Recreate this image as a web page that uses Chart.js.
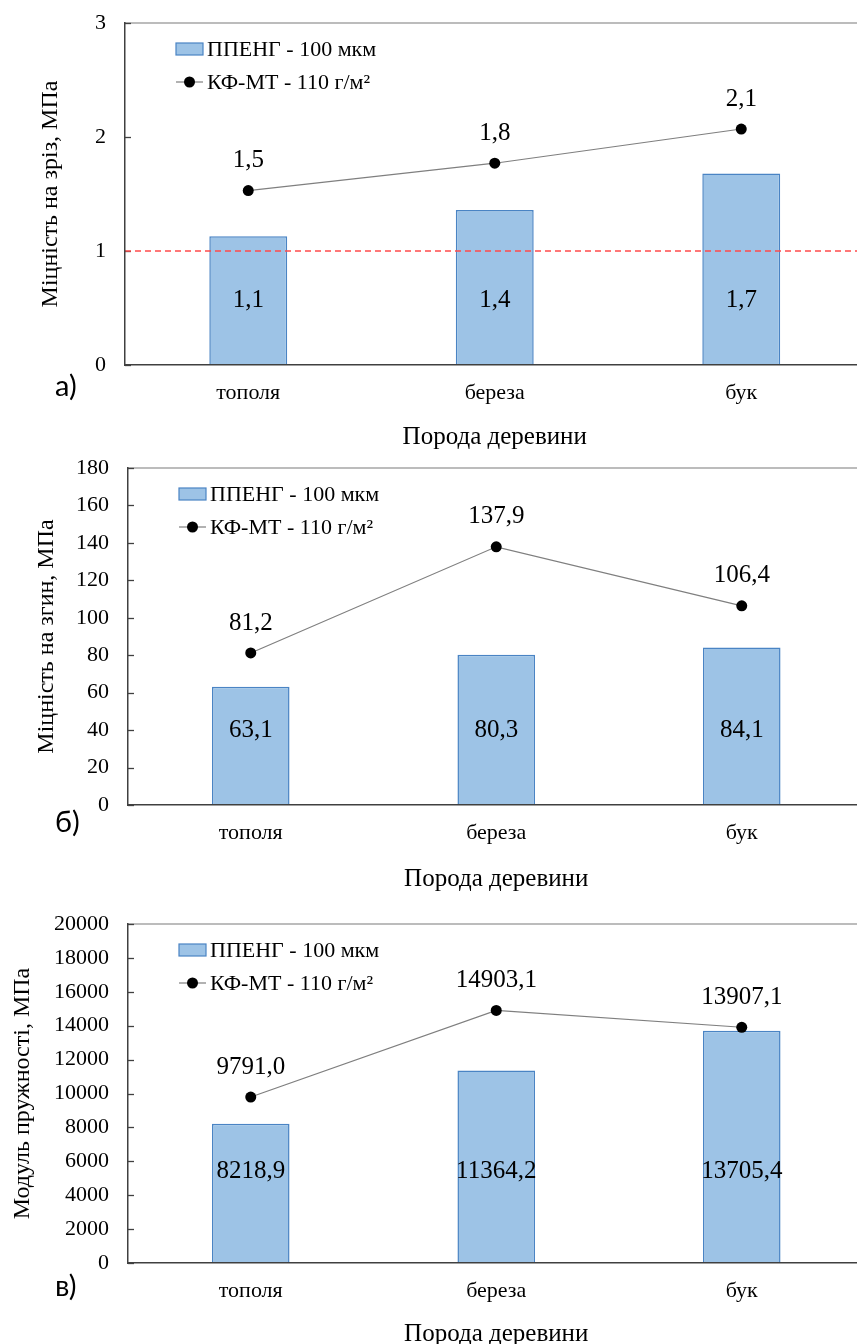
<!DOCTYPE html>
<html>
<head>
<meta charset="utf-8">
<script src="https://cdn.jsdelivr.net/npm/chart.js@4.4.0/dist/chart.umd.min.js"></script>
<style>
    html, body { margin: 0; padding: 0; background: #fff; width: 857px; height: 1344px; overflow: hidden; }
    .panel { position: absolute; left: 0; }
    .letter { position: absolute; left: 55px; font-family: Lato, "Noto Sans", sans-serif; font-size: 29px; line-height: 1; color: #000; }
</style>
</head>
<body>
<div class="panel" style="top:0px"><canvas id="chartA" width="870" height="462"></canvas></div>
<div class="panel" style="top:440px"><canvas id="chartB" width="870" height="462"></canvas></div>
<div class="panel" style="top:896px"><canvas id="chartC" width="870" height="460"></canvas></div>
<div class="letter" style="top:370px">а)</div>
<div class="letter" style="top:806px">б)</div>
<div class="letter" style="top:1270px">в)</div>

<script>
// Data
const categories = ['тополя', 'береза', 'бук'];
const seriesNames = ['ППЕНГ - 100 мкм', 'КФ-МТ - 110 г/м²'];
const axisTitleX = 'Порода деревини';

// а) shear strength, MPa
const shearFilm = [1.13, 1.36, 1.68];
const shearPaper = [1.53, 1.77, 2.07];
const shearLimit = 1;

// б) bending strength, MPa
const bendFilm = [63.1, 80.3, 84.1];
const bendPaper = [81.2, 137.9, 106.4];

// в) modulus of elasticity, MPa
const modulusFilm = [8218.9, 11364.2, 13705.4];
const modulusPaper = [9791.0, 14903.1, 13907.1];

const SERIF = '"Liberation Serif", "Times New Roman", serif';
const BAR_FILL = '#9dc3e6';
const BAR_EDGE = '#4a84c4';
const AXIS_COLOR = '#404040';

function fmt(v) {
    return v.toFixed(1).replace('.', ',');
}

/**
 * Draws inner tick marks, top frame line, reference line, value labels and legend
 */
const panelDecor = {
    id: 'panelDecor',
    afterDatasetsDraw: function(chart, args, opts) {
        const ctx = chart.ctx;
        const area = chart.chartArea;
        const yScale = chart.scales.y;

        ctx.save();

        // top frame line
        ctx.strokeStyle = '#a6a6a6';
        ctx.lineWidth = 1.5;
        ctx.beginPath();
        ctx.moveTo(area.left, area.top);
        ctx.lineTo(area.right, area.top);
        ctx.stroke();

        // tick marks pointing into the plot
        ctx.strokeStyle = AXIS_COLOR;
        ctx.lineWidth = 1.3;
        yScale.ticks.forEach(t => {
            const y = Math.round(yScale.getPixelForValue(t.value)) + 0.5;
            ctx.beginPath();
            ctx.moveTo(area.left, y);
            ctx.lineTo(area.left + 6, y);
            ctx.stroke();
        });

        // dashed reference line
        if (opts.refLine !== undefined) {
            const y = yScale.getPixelForValue(opts.refLine);
            ctx.strokeStyle = '#ff4b4b';
            ctx.lineWidth = 1.6;
            ctx.setLineDash([6, 4]);
            ctx.beginPath();
            ctx.moveTo(area.left, y);
            ctx.lineTo(area.right, y);
            ctx.stroke();
            ctx.setLineDash([]);
        }

        // value labels
        ctx.fillStyle = '#000';
        ctx.font = '25px ' + SERIF;
        ctx.textAlign = 'center';
        ctx.textBaseline = 'middle';
        chart.data.datasets.forEach((ds, di) => {
            const meta = chart.getDatasetMeta(di);
            meta.data.forEach((el, i) => {
                if (ds.type === 'bar') {
                    const y = area.bottom - opts.barLabelFrac * (area.bottom - area.top);
                    ctx.fillText(fmt(ds.data[i]), el.x, y);
                } else {
                    ctx.fillText(fmt(ds.data[i]), el.x, el.y - 30);
                }
            });
        });

        // legend
        const lx = area.left + 51;
        const row1 = area.top + 26;
        const row2 = area.top + 59;
        ctx.fillStyle = BAR_FILL;
        ctx.fillRect(lx, row1 - 6, 27, 12);
        ctx.strokeStyle = BAR_EDGE;
        ctx.lineWidth = 1.2;
        ctx.strokeRect(lx, row1 - 6, 27, 12);

        ctx.strokeStyle = '#7f7f7f';
        ctx.lineWidth = 1.2;
        ctx.beginPath();
        ctx.moveTo(lx, row2);
        ctx.lineTo(lx + 27, row2);
        ctx.stroke();
        ctx.fillStyle = '#000';
        ctx.beginPath();
        ctx.arc(lx + 13.5, row2, 5.5, 0, Math.PI * 2);
        ctx.fill();

        ctx.font = '22px ' + SERIF;
        ctx.textAlign = 'left';
        ctx.fillText(seriesNames[0], lx + 31, row1 + 1);
        ctx.fillText(seriesNames[1], lx + 31, row2 + 1);

        ctx.restore();
    }
};

Chart.register(panelDecor);

/**
 * Build one panel: bars for film, line with markers for paper
 */
function makePanel(canvasId, cfg) {
    const ctx = document.getElementById(canvasId).getContext('2d');
    return new Chart(ctx, {
        data: {
            labels: categories,
            datasets: [
                {
                    type: 'line',
                    label: seriesNames[1],
                    data: cfg.paper,
                    borderColor: '#7f7f7f',
                    borderWidth: 1.2,
                    pointRadius: 5.5,
                    pointBackgroundColor: '#000',
                    pointBorderColor: '#000',
                    pointBorderWidth: 0,
                    tension: 0,
                    order: 0
                },
                {
                    type: 'bar',
                    label: seriesNames[0],
                    data: cfg.film,
                    backgroundColor: BAR_FILL,
                    borderColor: BAR_EDGE,
                    borderWidth: 1.5,
                    categoryPercentage: 1,
                    barPercentage: 0.316,
                    order: 1
                }
            ]
        },
        options: {
            responsive: false,
            animation: false,
            layout: {
                padding: { top: cfg.padTop, right: 0, bottom: 0, left: 0 }
            },
            plugins: {
                legend: { display: false },
                tooltip: { enabled: false },
                panelDecor: {
                    refLine: cfg.refLine,
                    barLabelFrac: cfg.barLabelFrac
                }
            },
            scales: {
                x: {
                    afterFit: function(scale) { scale.height = cfg.xHeight; },
                    grid: { display: false, drawTicks: false },
                    border: { display: true, color: AXIS_COLOR, width: 1.5, z: 1 },
                    ticks: {
                        color: '#000',
                        padding: 15,
                        font: { family: SERIF, size: 22 }
                    },
                    title: {
                        display: true,
                        text: axisTitleX,
                        color: '#000',
                        font: { family: SERIF, size: 25 },
                        padding: { top: 0, bottom: cfg.xTitlePad }
                    }
                },
                y: {
                    min: cfg.min,
                    max: cfg.max,
                    afterFit: function(scale) {
                        scale.width = cfg.yWidth;
                        // keep the plot top where layout padding puts it
                        scale.paddingTop = 8;
                        scale.paddingBottom = 8;
                    },
                    grid: { display: false, drawTicks: false },
                    border: { display: true, color: AXIS_COLOR, width: 1.5, z: 1 },
                    ticks: {
                        stepSize: cfg.step,
                        color: '#000',
                        padding: 19,
                        font: { family: SERIF, size: 22 },
                        callback: function(value) { return String(value); }
                    },
                    title: {
                        display: true,
                        text: cfg.yTitle,
                        color: '#000',
                        font: { family: SERIF, size: 24 },
                        padding: { top: cfg.yTitlePad, bottom: 0 }
                    }
                }
            }
        }
    });
}

makePanel('chartA', {
    film: shearFilm, paper: shearPaper, refLine: shearLimit,
    min: 0, max: 3, step: 1,
    yTitle: 'Міцність на зріз, МПа',
    padTop: 23, yWidth: 125, xHeight: 97, xTitlePad: 10, yTitlePad: 36,
    barLabelFrac: 0.19
});

makePanel('chartB', {
    film: bendFilm, paper: bendPaper,
    min: 0, max: 180, step: 20,
    yTitle: 'Міцність на згин, МПа',
    padTop: 28, yWidth: 128, xHeight: 97, xTitlePad: 8, yTitlePad: 32,
    barLabelFrac: 0.22
});

makePanel('chartC', {
    film: modulusFilm, paper: modulusPaper,
    min: 0, max: 20000, step: 2000,
    yTitle: 'Модуль пружності, МПа',
    padTop: 28, yWidth: 128, xHeight: 93, xTitlePad: 7, yTitlePad: 8,
    barLabelFrac: 0.27
});
</script>
</body>
</html>
